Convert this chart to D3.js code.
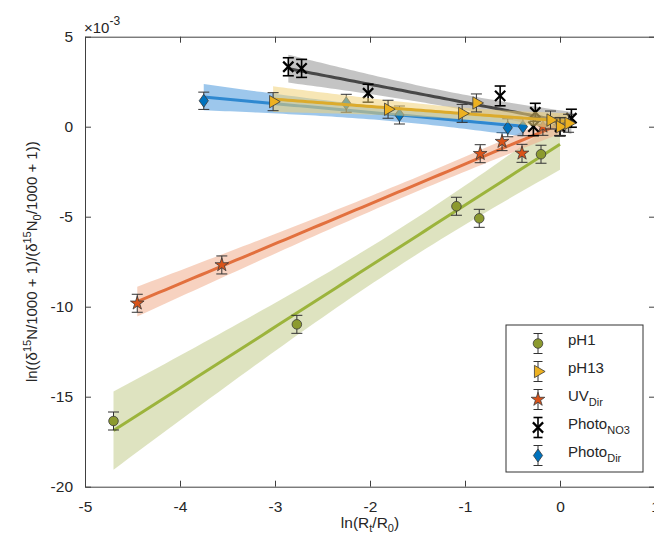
<!DOCTYPE html>
<html><head><meta charset="utf-8">
<script src="https://cdn.jsdelivr.net/npm/d3@7"></script>
<style>body{margin:0;background:#fff} text{font-family:"Liberation Sans",Arial,sans-serif;fill:#262626}</style>
</head><body>
<svg id="c" width="654" height="543"></svg>
<script>
// ---- data (y in units of 1e-3) ----
const xTicks = [-5, -4, -3, -2, -1, 0, 1];
const yTicks = [5, 0, -5, -10, -15, -20];
const legendOrder = ["pH1", "pH13", "UVDir", "PhotoNO3", "PhotoDir"];
const drawOrder = ["pH1", "UVDir", "PhotoDir", "PhotoNO3", "pH13"];

const pH1X = [-4.70, -2.77, -1.09, -0.85, -0.20, 0];
const pH1Y = [-16.35, -10.98, -4.42, -5.09, -1.53, 0];
const pH1Err = [0.5, 0.5, 0.5, 0.5, 0.5, 0.5];

const pH13X = [-3.02, -1.81, -1.03, -0.88, -0.10, 0.00, 0.09];
const pH13Y = [1.39, 0.97, 0.74, 1.32, 0.37, 0.00, 0.19];
const pH13Err = [0.5, 0.5, 0.5, 0.5, 0.5, 0.5, 0.5];

const uvX = [-4.45, -3.56, -0.84, -0.61, -0.40, -0.18, 0];
const uvY = [-9.81, -7.68, -1.50, -0.83, -1.48, 0.02, 0];
const uvErr = [0.5, 0.5, 0.5, 0.5, 0.5, 0.5, 0.5];

const no3X = [-2.86, -2.72, -2.02, -0.63, -0.26, -0.28, 0.12, 0];
const no3Y = [3.33, 3.24, 1.86, 1.71, 0.80, 0.00, 0.47, 0];
const no3Err = [0.5, 0.5, 0.5, 0.55, 0.5, 0.5, 0.5, 0.5];

const dirX = [-3.75, -2.25, -1.69, -0.55, -0.39];
const dirY = [1.44, 1.30, 0.65, -0.06, 0.00];
const dirErr = [0.48, 0.5, 0.5, 0.5, 0.5];

// two-sided 95% Student t quantiles by degrees of freedom
const t975 = {1:12.706, 2:4.303, 3:3.182, 4:2.776, 5:2.571, 6:2.447, 7:2.365, 8:2.306};

const series = {
  pH1:      {x: pH1X, y: pH1Y, e: pH1Err, marker: "circle",   fill: "#8c9a2f", line: "#9cb43c", band: "#c3cc8c", eb: "#333"},
  pH13:     {x: pH13X, y: pH13Y, e: pH13Err, marker: "triangle", fill: "#edb120", line: "#dcab2c", band: "#f0d278", eb: "#333"},
  UVDir:    {x: uvX, y: uvY, e: uvErr, marker: "star",     fill: "#d95319", line: "#e2703e", band: "#f0ad8c", eb: "#333"},
  PhotoNO3: {x: no3X, y: no3Y, e: no3Err, marker: "x",      fill: "#000",    line: "#474747", band: "#949494", eb: "#000"},
  PhotoDir: {x: dirX, y: dirY, e: dirErr, marker: "diamond", fill: "#0072bd", line: "#2f88d0", band: "#4d99dc", eb: "#333"}
};

// ---- layout ----
const svg = d3.select("#c");
const L = 85, R = 655, T = 36.7, B = 486.7;
const xs = d3.scaleLinear().domain([-5, 1]).range([L, R]);
const ys = d3.scaleLinear().domain([-20, 5]).range([B, T]);

const plot = svg.append("g");

function markerPath(kind) {
  if (kind === "circle") return d3.symbol(d3.symbolCircle, 72)();
  if (kind === "triangle") return d3.symbol(d3.symbolTriangle, 66)();
  if (kind === "star") return d3.symbol(d3.symbolStar, 58)();
  if (kind === "x") return d3.symbol(d3.symbolX, 70)();
  return "M0,-6.5L4.6,0L0,6.5L-4.6,0Z";
}
function drawMarker(g, kind, s, cx, cy) {
  const p = g.append("path").attr("d", markerPath(kind))
    .attr("transform", `translate(${cx},${cy})` + (kind === "triangle" ? " rotate(90)" : ""));
  if (kind === "x") p.attr("fill", "none").attr("stroke", "#000").attr("stroke-width", 2.2);
  else p.attr("fill", s.fill).attr("stroke", "#3a3a3a").attr("stroke-width", 0.8);
}
function drawErr(g, s, cx, y0, y1, cap) {
  const w = s.eb === "#000" ? 1.6 : 1;
  g.append("line").attr("x1", cx).attr("x2", cx).attr("y1", y0).attr("y2", y1).attr("stroke", s.eb).attr("stroke-width", w);
  [y0, y1].forEach(v => g.append("line").attr("x1", cx - cap).attr("x2", cx + cap).attr("y1", v).attr("y2", v).attr("stroke", s.eb).attr("stroke-width", w));
}

function fit(xa, ya) {
  const n = xa.length, mx = d3.mean(xa), my = d3.mean(ya);
  let sxx = 0, sxy = 0;
  for (let i = 0; i < n; i++) { sxx += (xa[i] - mx) ** 2; sxy += (xa[i] - mx) * (ya[i] - my); }
  const b = sxy / sxx, a = my - b * mx;
  let sse = 0;
  for (let i = 0; i < n; i++) sse += (ya[i] - a - b * xa[i]) ** 2;
  const s = Math.sqrt(sse / (n - 2));
  const t = t975[n - 2];
  return {a, b, n, mx, sxx, s, t};
}

drawOrder.forEach(key => {
  const s = series[key];
  const f = fit(s.x, s.y);
  const [x0, x1] = d3.extent(s.x);
  const grid = d3.range(0, 61).map(i => x0 + (x1 - x0) * i / 60);
  const pts = grid.map(x => {
    const yh = f.a + f.b * x;
    const se = f.s * Math.sqrt(1 / f.n + (x - f.mx) ** 2 / f.sxx);
    return {x, yh, lo: yh - f.t * se, hi: yh + f.t * se};
  });
  const g = plot.append("g");
  g.append("path").datum(pts)
    .attr("d", d3.area().x(d => xs(d.x)).y0(d => ys(d.lo)).y1(d => ys(d.hi)))
    .attr("fill", s.band).attr("fill-opacity", 0.55).attr("stroke", "none");
  g.append("path").datum(pts)
    .attr("d", d3.line().x(d => xs(d.x)).y(d => ys(d.yh)))
    .attr("fill", "none").attr("stroke", s.line).attr("stroke-width", 3);
  s.x.forEach((xv, i) => {
    drawErr(g, s, xs(xv), ys(s.y[i] - s.e[i]), ys(s.y[i] + s.e[i]), 5.5);
  });
  s.x.forEach((xv, i) => drawMarker(g, s.marker, s, xs(xv), ys(s.y[i])));
});

// ---- axes ----
const axCol = "#404040";
const fontPx = "15.5px";
const gx = svg.append("g").attr("transform", `translate(0,${B})`)
  .call(d3.axisBottom(xs).tickValues(xTicks).tickSize(-6).tickSizeOuter(0).tickPadding(14).tickFormat(d3.format("d")));
const gy = svg.append("g").attr("transform", `translate(${L},0)`)
  .call(d3.axisLeft(ys).tickValues(yTicks).tickSize(-6).tickSizeOuter(0).tickPadding(12).tickFormat(d3.format("d")));
const gt = svg.append("g").attr("transform", `translate(0,${T})`)
  .call(d3.axisTop(xs).tickValues(xTicks).tickSize(-6).tickSizeOuter(0).tickFormat(""));
const gr = svg.append("g").attr("transform", `translate(${R},0)`)
  .call(d3.axisRight(ys).tickValues(yTicks).tickSize(-6).tickSizeOuter(0).tickFormat(""));
[gx, gy, gt, gr].forEach(g => {
  g.selectAll("path,line").attr("stroke", axCol).attr("stroke-width", 1);
  g.selectAll("text").attr("font-size", fontPx).attr("font-family", '"Liberation Sans",Arial,sans-serif').attr("fill", "#262626");
});
gx.selectAll("text").text(d => d < 0 ? "-" + Math.abs(d) : d);
gy.selectAll("text").text(d => d < 0 ? "-" + Math.abs(d) : d);

// exponent label
const ex = svg.append("text").attr("x", 84).attr("y", 33).attr("font-size", "15px");
ex.append("tspan").text("\u00d710");
ex.append("tspan").attr("dy", -8).attr("font-size", "12px").text("-3");

// x label
const xl = svg.append("text").attr("x", (L + R) / 2).attr("y", 528).attr("text-anchor", "middle").attr("font-size", "15.5px");
xl.append("tspan").text("ln(R");
xl.append("tspan").attr("dy", 4).attr("font-size", "11px").text("t");
xl.append("tspan").attr("dy", -4).text("/R");
xl.append("tspan").attr("dy", 4).attr("font-size", "11px").text("0");
xl.append("tspan").attr("dy", -4).text(")");

// y label
const yl = svg.append("text").attr("transform", `translate(37,${(T + B) / 2}) rotate(-90)`).attr("text-anchor", "middle").attr("font-size", "15px");
yl.append("tspan").text("ln((\u03b4");
yl.append("tspan").attr("dy", -6).attr("font-size", "11px").text("15");
yl.append("tspan").attr("dy", 6).text("N/1000 + 1)/(\u03b4");
yl.append("tspan").attr("dy", -6).attr("font-size", "11px").text("15");
yl.append("tspan").attr("dy", 6).text("N");
yl.append("tspan").attr("dy", 4).attr("font-size", "11px").text("0");
yl.append("tspan").attr("dy", -4).text("/1000 + 1))");

// ---- legend ----
const lg = svg.append("g");
lg.append("rect").attr("x", 506).attr("y", 325).attr("width", 137).attr("height", 147)
  .attr("fill", "#fff").attr("stroke", "#333").attr("stroke-width", 1);
const legendLabels = {
  pH1: ["pH1", ""], pH13: ["pH13", ""], UVDir: ["UV", "Dir"], PhotoNO3: ["Photo", "NO3"], PhotoDir: ["Photo", "Dir"]
};
legendOrder.forEach((key, i) => {
  const s = series[key];
  const cy = 343.5 + i * 28;
  const cx = 538;
  drawErr(lg, s, cx, cy - 10, cy + 10, 4.5);
  drawMarker(lg, s.marker, s, cx, cy);
  const t = lg.append("text").attr("x", 568).attr("y", cy + 1).attr("font-size", "15px");
  t.append("tspan").text(legendLabels[key][0]);
  if (legendLabels[key][1]) t.append("tspan").attr("dy", 5).attr("font-size", "11px").text(legendLabels[key][1]);
});
</script>
</body></html>
